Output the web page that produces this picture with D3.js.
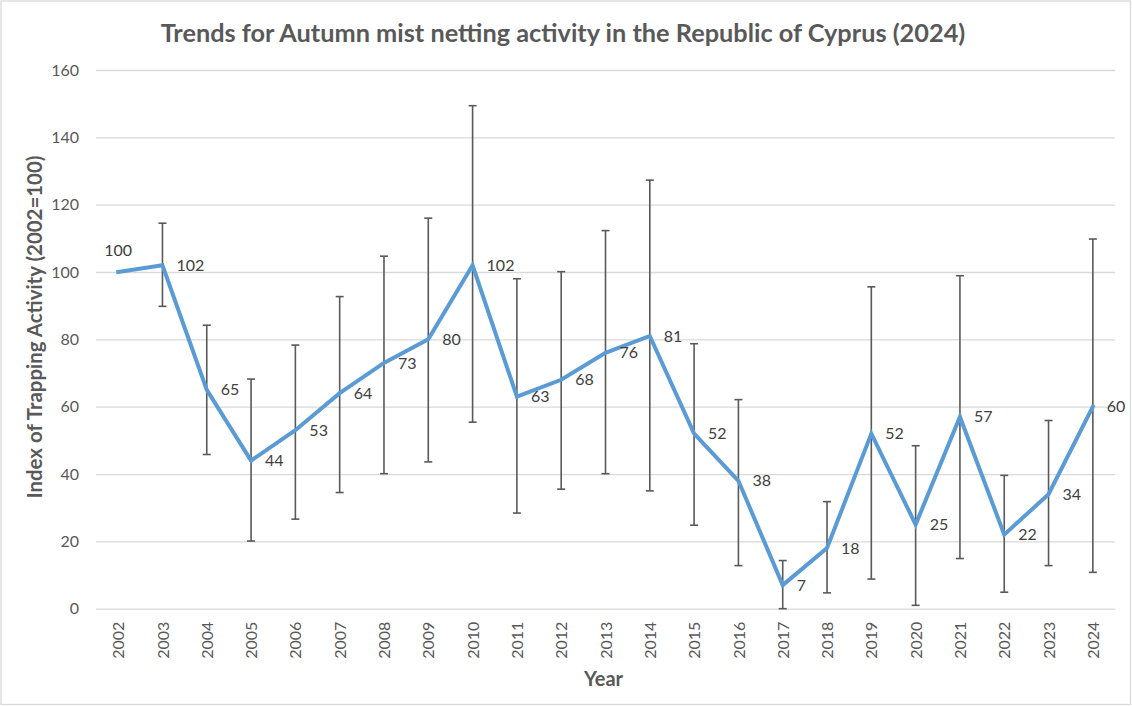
<!DOCTYPE html>
<html>
<head>
<meta charset="utf-8">
<script src="https://cdn.jsdelivr.net/npm/d3@7"></script>
<style>
  html, body { margin: 0; padding: 0; background: #fff; }
  svg { display: block; font-family: Lato, "Open Sans", sans-serif; }
</style>
</head>
<body>
<svg id="chart" width="1132" height="706"></svg>
<script>
// data
const years = ["2002","2003","2004","2005","2006","2007","2008","2009","2010","2011","2012",
               "2013","2014","2015","2016","2017","2018","2019","2020","2021","2022","2023","2024"];
const index = [100, 102, 65, 44, 53, 64, 73, 80, 102, 63, 68, 76, 81, 52, 38, 7, 18, 52, 25, 57, 22, 34, 60];
const upper = [null, 114.5, 84.2, 68.2, 78.3, 92.7, 104.7, 116, 149.4, 98, 100.1, 112.3, 127.3,
               78.7, 62.1, 14.3, 31.8, 95.6, 48.4, 98.9, 39.6, 55.9, 109.8];
const lower = [null, 89.8, 45.8, 20.1, 26.6, 34.5, 40.1, 43.6, 55.4, 28.4, 35.5, 40.1, 35.0,
               24.8, 12.8, 0, 4.7, 8.8, 1.0, 14.9, 4.9, 12.8, 10.8];
const yTicks = [0, 20, 40, 60, 80, 100, 120, 140, 160];

const W = 1132, H = 706;
const plot = { left: 96, right: 1115, top: 70, bottom: 608.7 };
const grey = "#595959";

const svg = d3.select("#chart");

// outer chart border
svg.append("rect")
  .attr("x", 1).attr("y", 1).attr("width", W - 2.5).attr("height", H - 2.5)
  .attr("fill", "#fff").attr("stroke", "#d9d9d9").attr("stroke-width", 1.3);

const x = d3.scalePoint().domain(years).range([plot.left, plot.right]).padding(0.5);
const y = d3.scaleLinear().domain([0, 160]).range([plot.bottom, plot.top]);

// fit text to a width measured on the reference
function fitWidth(sel, target) {
  const fs = parseFloat(sel.attr("font-size"));
  const w = sel.node().getComputedTextLength();
  if (w > 0) sel.attr("font-size", (fs * target / w).toFixed(2));
}

// gridlines + y labels
const yAxis = d3.axisLeft(y).tickValues(yTicks).tickSize(-(plot.right - plot.left)).tickPadding(17);
const gy = svg.append("g").attr("transform", `translate(${plot.left},0)`).call(yAxis);
gy.select(".domain").remove();
gy.selectAll(".tick line").attr("stroke", "#d9d9d9").attr("stroke-width", 1.3);
gy.selectAll(".tick text").attr("fill", grey).attr("font-size", 16)
  .style("font-family", "Lato, 'Open Sans', sans-serif");

// x axis labels (rotated)
const xAxis = d3.axisBottom(x).tickSize(0).tickPadding(0);
const gx = svg.append("g").attr("transform", `translate(0,${plot.bottom})`).call(xAxis);
gx.select(".domain").remove();
gx.selectAll(".tick text")
  .attr("fill", grey).attr("font-size", 16)
  .style("font-family", "Lato, 'Open Sans', sans-serif")
  .attr("transform", "rotate(-90)")
  .attr("text-anchor", "end")
  .attr("x", -13).attr("y", 0).attr("dy", "0.35em");

// error bars
const eb = svg.append("g").attr("stroke", "#595959").attr("stroke-width", 1.6).attr("fill", "none");
years.forEach((yr, i) => {
  if (upper[i] == null) return;
  const cx = x(yr);
  eb.append("line").attr("x1", cx).attr("x2", cx).attr("y1", y(upper[i])).attr("y2", y(lower[i]));
  eb.append("line").attr("x1", cx - 4).attr("x2", cx + 4).attr("y1", y(upper[i])).attr("y2", y(upper[i]));
  eb.append("line").attr("x1", cx - 4).attr("x2", cx + 4).attr("y1", y(lower[i])).attr("y2", y(lower[i]));
});

// index line
const line = d3.line().x((d, i) => x(years[i])).y(d => y(d));
svg.append("path").datum(index)
  .attr("d", line)
  .attr("fill", "none").attr("stroke", "#5B9BD5").attr("stroke-width", 4)
  .attr("stroke-linejoin", "miter").attr("stroke-linecap", "square");

// data labels
svg.append("g").selectAll("text").data(index).join("text")
  .attr("x", (d, i) => i === 0 ? x(years[i]) : x(years[i]) + 14)
  .attr("y", (d, i) => i === 0 ? y(d) - 22 : y(d))
  .attr("dy", "0.35em")
  .attr("text-anchor", (d, i) => i === 0 ? "middle" : "start")
  .attr("fill", "#404040").attr("font-size", 16)
  .text(d => d);

// title
const title = svg.append("text")
  .attr("x", 563).attr("y", 33).attr("dy", "0.35em")
  .attr("text-anchor", "middle").attr("font-weight", "bold")
  .attr("font-size", 21).attr("fill", grey)
  .text("Trends for Autumn mist netting activity in the Republic of Cyprus (2024)");
fitWidth(title, 805);

// axis titles
const yt = svg.append("text")
  .attr("transform", `translate(35,327) rotate(-90)`).attr("dy", "0.35em")
  .attr("text-anchor", "middle").attr("font-weight", "bold")
  .attr("font-size", 20).attr("fill", grey)
  .text("Index of Trapping Activity (2002=100)");
fitWidth(yt, 343);

svg.append("text")
  .attr("x", (plot.left + plot.right) / 2 - 2).attr("y", 679).attr("dy", "0.35em")
  .attr("text-anchor", "middle").attr("font-weight", "bold")
  .attr("font-size", 20).attr("fill", grey)
  .text("Year");
</script>
</body>
</html>
